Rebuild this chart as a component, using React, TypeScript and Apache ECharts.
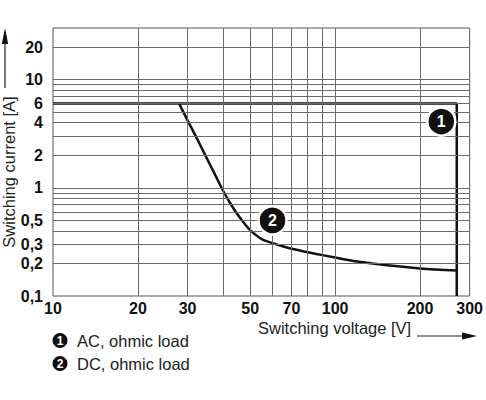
import React, { useEffect, useRef } from "react";
import * as echarts from "echarts";

const xTickLabels = [10, 20, 30, 50, 70, 100, 200, 300];
const yTickLabels = [0.1, 0.2, 0.3, 0.5, 1, 2, 4, 6, 10, 20];
const xGridValues = [20, 30, 40, 50, 60, 70, 80, 90, 100, 200];
const yGridValues = [0.2, 0.3, 0.4, 0.5, 0.6, 0.7, 0.8, 0.9, 1, 2, 3, 4, 5, 6, 7, 8, 9, 10, 20];

const acVoltage = [10, 270, 270];
const acCurrent = [6, 6, 0.1];

const dcVoltage = [28, 30, 32.5, 35, 37.5, 40, 42.5, 45, 47.5, 50, 55, 60, 67, 75, 85, 100, 120, 150, 200, 270];
const dcCurrent = [6, 4.2, 2.8, 1.9, 1.33, 0.95, 0.72, 0.572, 0.475, 0.406, 0.335, 0.308, 0.282, 0.263, 0.246, 0.227, 0.208, 0.193, 0.18, 0.172];

const markerLabels = ["1", "2"];
const markerVoltage = [238, 60];
const markerCurrent = [4.1, 0.5];

const legendTexts = ["AC, ohmic load", "DC, ohmic load"];

const FONT = "'Liberation Sans', Arial, Helvetica, sans-serif";

export default function App() {
  const ref = useRef<HTMLDivElement>(null);
  useEffect(() => {
    if (!ref.current) return;
    const chart = echarts.init(ref.current, null, { renderer: "svg" });
    const fmt = (v: number) => String(+v.toPrecision(6)).replace(".", ",");
    const gridColor = "#6a6a6a";
    const option: any = {
      animation: false,
      backgroundColor: "#ffffff",
      textStyle: { fontFamily: FONT },
      grid: {
        left: 53,
        top: 28,
        width: 421,
        height: 268,
        show: true,
        borderColor: "#555",
        borderWidth: 1,
        backgroundColor: "transparent",
      },
      xAxis: {
        type: "log",
        logBase: 10,
        min: 10,
        max: 300,
        axisLine: { show: false },
        axisTick: { show: false },
        splitLine: { show: false },
        axisLabel: {
          customValues: xTickLabels,
          formatter: fmt,
          fontSize: 16,
          fontWeight: "bold",
          color: "#111",
          fontFamily: FONT,
          margin: 4,
          showMinLabel: true,
          showMaxLabel: true,
          hideOverlap: false,
        },
      },
      yAxis: {
        type: "log",
        logBase: 10,
        min: 0.1,
        max: 30,
        axisLine: { show: false },
        axisTick: { show: false },
        splitLine: { show: false },
        axisLabel: {
          customValues: yTickLabels,
          formatter: fmt,
          fontSize: 16,
          fontWeight: "bold",
          color: "#111",
          fontFamily: FONT,
          margin: 10,
          showMinLabel: true,
          showMaxLabel: true,
          hideOverlap: false,
        },
      },
      series: [
        {
          type: "line",
          data: [],
          z: 1,
          silent: true,
          markLine: {
            silent: true,
            symbol: "none",
            animation: false,
            label: { show: false },
            lineStyle: { color: gridColor, width: 1, type: "solid" },
            emphasis: { disabled: true },
            data: [
              ...xGridValues.map((v) => ({ xAxis: v })),
              ...yGridValues.map((v) => ({ yAxis: v })),
            ],
          },
        },
        {
          name: "AC",
          type: "line",
          z: 3,
          symbol: "none",
          lineStyle: { color: "#111", width: 2.5 },
          data: acVoltage.map((v, i) => [v, acCurrent[i]]),
        },
        {
          name: "DC",
          type: "line",
          z: 3,
          symbol: "none",
          smooth: 0.3,
          lineStyle: { color: "#111", width: 2.5 },
          data: dcVoltage.map((v, i) => [v, dcCurrent[i]]),
        },
        {
          type: "scatter",
          z: 5,
          symbol: "circle",
          symbolSize: 28,
          itemStyle: { color: "#111", borderColor: "#fff", borderWidth: 2.5, opacity: 1 },
          label: {
            show: true,
            position: "inside",
            formatter: (p: any) => markerLabels[p.dataIndex],
            color: "#fff",
            fontSize: 16,
            fontWeight: "bold",
            fontFamily: FONT,
          },
          data: markerVoltage.map((v, i) => [v, markerCurrent[i]]),
        },
      ],
      graphic: [
        {
          type: "text",
          x: 9,
          y: 172,
          rotation: Math.PI / 2,
          style: {
            text: "Switching current [A]",
            fontSize: 16.5,
            fontFamily: FONT,
            fill: "#222",
            align: "center",
            verticalAlign: "middle",
            textAlign: "center",
            textVerticalAlign: "middle",
          },
        },
        { type: "line", shape: { x1: 5, y1: 88, x2: 5, y2: 42 }, style: { stroke: "#222", lineWidth: 1.2 } },
        { type: "polygon", shape: { points: [[1.8, 44], [8.2, 44], [5, 28]] }, style: { fill: "#111" } },
        {
          type: "text",
          x: 258,
          y: 328,
          style: {
            text: "Switching voltage [V]",
            fontSize: 16.5,
            fontFamily: FONT,
            fill: "#222",
            align: "left",
            verticalAlign: "middle",
            textAlign: "left",
            textVerticalAlign: "middle",
          },
        },
        { type: "line", shape: { x1: 417, y1: 336, x2: 464, y2: 336 }, style: { stroke: "#222", lineWidth: 1.2 } },
        { type: "polygon", shape: { points: [[462, 332.6], [462, 339.4], [477, 336]] }, style: { fill: "#111" } },
        ...legendTexts.flatMap((t, i) => {
          const cy = 340.5 + i * 23;
          return [
            { type: "circle", shape: { cx: 60, cy, r: 7.5 }, style: { fill: "#111" } },
            {
              type: "text",
              x: 60,
              y: cy + 0.5,
              style: {
                text: markerLabels[i],
                fontSize: 12,
                fontWeight: "bold",
                fontFamily: FONT,
                fill: "#fff",
                align: "center",
                verticalAlign: "middle",
                textAlign: "center",
                textVerticalAlign: "middle",
              },
            },
            {
              type: "text",
              x: 77,
              y: cy,
              style: {
                text: t,
                fontSize: 16.5,
                fontFamily: FONT,
                fill: "#222",
                align: "left",
                verticalAlign: "middle",
                textAlign: "left",
                textVerticalAlign: "middle",
              },
            },
          ];
        }),
      ],
    };
    chart.setOption(option);
    return () => chart.dispose();
  }, []);
  return (
    <div
      ref={ref}
      style={{ position: "absolute", left: 0, top: 0, width: 486, height: 400, background: "#fff" }}
    />
  );
}
